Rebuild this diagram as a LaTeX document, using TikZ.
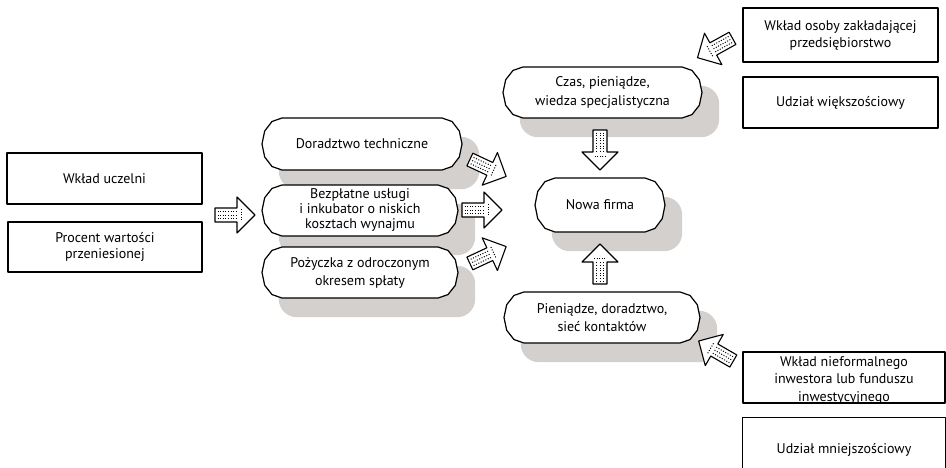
\documentclass[tikz,border=0pt]{standalone}
\usepackage{fontspec}
\setmainfont{PT Sans}
\usetikzlibrary{calc}
\pgfdeclarelayer{shadows}
\pgfdeclarelayer{outlines}
\pgfsetlayers{shadows,outlines,main}
\definecolor{shadowgray}{RGB}{212,208,205}

% rounded "capsule" box with polygonal ends and a soft grey shadow
% #1 name, #2 x, #3 y, #4 width, #5 height, #6 baselineskip, #7 text
\newcommand\capsulenode[7]{%
  \node[captext, font=\fontsize{14}{#6}\selectfont, minimum width=#4, minimum height=#5] (#1) at (#2,#3) {#7};
  \begin{pgfonlayer}{shadows}
    \fill[shadowgray, rounded corners=18pt]
      ($(#1.north west)+(17,19)$) rectangle ($(#1.south east)+(17,19)$);
  \end{pgfonlayer}
  \begin{pgfonlayer}{outlines}
    \filldraw[outline, fill=white, shift={(#1.center)}]
      ({-#4/2+20},{-#5/2}) -- ({#4/2-20},{-#5/2})
      \foreach \a in {60,30,0,-30,-60,-90} { -- ({#4/2-20+20*cos(\a)},{-#5/2*sin(\a)}) }
      -- ({-#4/2+20},{#5/2})
      \foreach \a in {-120,-150,180,150,120} { -- ({-#4/2+20+20*cos(\a)},{-#5/2*sin(\a)}) }
      -- cycle;
  \end{pgfonlayer}
}

\begin{document}
\begin{tikzpicture}[x=1pt, y=-1pt,
  outline/.style={draw=black, line width=1.2pt, line join=round},
  captext/.style={align=center, inner sep=0pt},
  rectbox/.style={outline, fill=white, align=center, inner sep=0pt,
    font=\fontsize{14}{17}\selectfont},
  dotline/.style={line width=1pt, dash pattern=on 1pt off 1.6pt},
  blockarrow/.pic={
    \filldraw[outline, line width=1.1pt, fill=white]
      (-20,-7) -- (2,-7) -- (2,-18) -- (20,0) -- (2,18) -- (2,7) -- (-20,7) -- cycle;
    \foreach \o in {-3.5,0,3.5} \draw[dotline] (-17.5,\o) -- (3,\o);
    \draw[dotline] (6,-6) -- (6,6);
  }]
\useasboundingbox (0,0) rectangle (946,467);

% university side
\node[rectbox, minimum width=195, minimum height=51] (wu) at (104.5,178.5) {Wkład uczelni};
\node[rectbox, minimum width=194, minimum height=50, font=\fontsize{14}{16}\selectfont]
  (proc) at (105,247) {Procent wartości\\przeniesionej};

\capsulenode{dor}{362}{144}{200}{52}{17.5}{Doradztwo techniczne}
\capsulenode{bez}{360}{210.5}{196}{51}{15}{Bezpłatne usługi\\i inkubator o niskich\\kosztach wynajmu}
\capsulenode{poz}{360}{272.5}{196}{51}{18}{Pożyczka z odroczonym\\okresem spłaty}

% central column
\capsulenode{czas}{602.5}{92.5}{199}{51}{19}{Czas, pieniądze,\\wiedza specjalistyczna}
\capsulenode{nowa}{600}{205}{130}{54}{17.5}{Nowa firma}
\capsulenode{pien}{602}{317.5}{196}{51}{18}{Pieniądze, doradztwo,\\sieć kontaktów}

% founder side
\node[rectbox, minimum width=195, minimum height=54] (wo) at (840.5,35) {Wkład osoby zakładającej\\przedsiębiorstwo};
\node[rectbox, minimum width=195, minimum height=51] (uw) at (840.5,102.5) {Udział większościowy};

% investor side
\node[rectbox, minimum width=202, minimum height=51] (wn) at (844,377.5) {};
\node[captext, font=\fontsize{14}{17.5}\selectfont] (wntext) at ($(wn.center)+(0,3)$)
  {Wkład nieformalnego\\inwestora lub funduszu\\inwestycyjnego};
\node[captext, font=\fontsize{14}{17}\selectfont, minimum width=202, minimum height=64] (um) at (844,450) {Udział mniejszościowy};
\draw[outline] (um.south west) -- (um.north west) -- (um.north east) -- (um.south east);

% block arrows
\coordinate (a1) at (235,215);
\coordinate (a2) at (488,168);
\coordinate (a3) at (482,210);
\coordinate (a4) at (488,255);
\coordinate (a5) at (600,150);
\coordinate (a6) at (600,264);
\coordinate (a7) at (715,48);
\coordinate (a8) at (716,351);
\pic[rotate=0] at (a1) {blockarrow};
\pic[rotate=-25] at (a2) {blockarrow};
\pic[rotate=0] at (a3) {blockarrow};
\pic[rotate=25] at (a4) {blockarrow};
\pic[rotate=-90] at (a5) {blockarrow};
\pic[rotate=90] at (a6) {blockarrow};
\pic[rotate=209] at (a7) {blockarrow};
\pic[rotate=150] at (a8) {blockarrow};
\end{tikzpicture}
\end{document}
